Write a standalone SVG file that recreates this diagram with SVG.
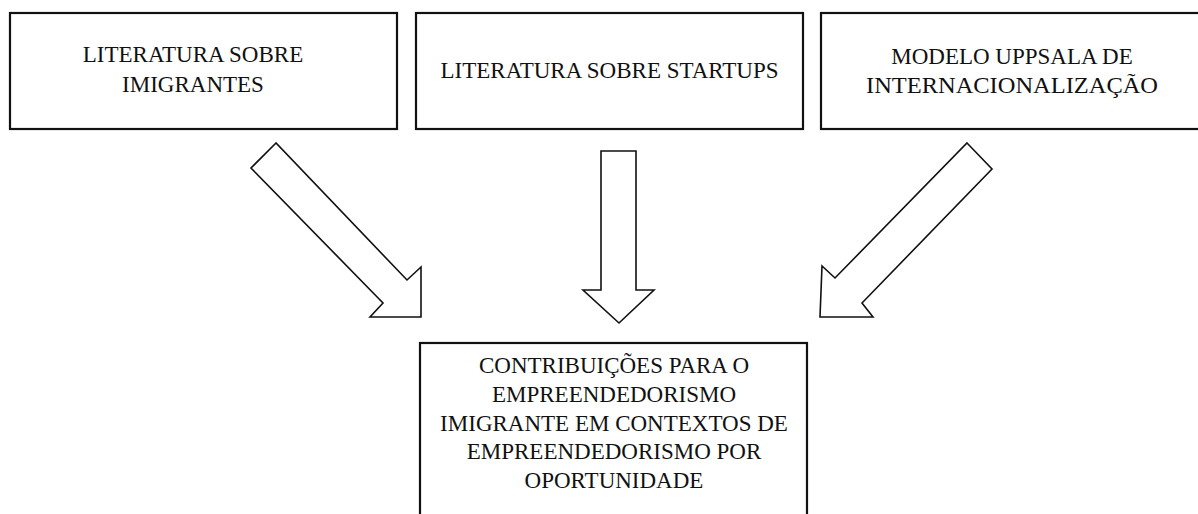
<svg xmlns="http://www.w3.org/2000/svg" width="1198" height="514" viewBox="0 0 1198 514">
<style>
.box{fill:#fff;stroke:#111;stroke-width:2.2}
.arr{fill:#fff;stroke:#111;stroke-width:1.6;stroke-linejoin:miter}
text{font-family:"Liberation Serif","Times New Roman",serif;font-size:23px;fill:#111;text-anchor:middle}
</style>
<rect width="1198" height="514" fill="#fff"/>
<g id="node-imigrantes">
<rect class="box" x="10" y="13" width="387" height="116"/>
<text x="193" y="62">LITERATURA SOBRE</text>
<text x="193" y="92">IMIGRANTES</text>
</g>
<g id="node-startups">
<rect class="box" x="416" y="13" width="387" height="116"/>
<text x="609.5" y="78">LITERATURA SOBRE STARTUPS</text>
</g>
<g id="node-uppsala">
<rect class="box" x="821" y="13" width="390" height="116"/>
<text x="1012" y="64">MODELO UPPSALA DE</text>
<text x="1012" y="93" textLength="292" lengthAdjust="spacingAndGlyphs">INTERNACIONALIZAÇÃO</text>
</g>
<g id="node-contribuicoes">
<rect class="box" x="420" y="343" width="387" height="190"/>
<text x="614" y="373">CONTRIBUIÇÕES PARA O</text>
<text x="614" y="402">EMPREENDEDORISMO</text>
<text x="614" y="431">IMIGRANTE EM CONTEXTOS DE</text>
<text x="614" y="459">EMPREENDEDORISMO POR</text>
<text x="614" y="488">OPORTUNIDADE</text>
</g>
<g id="connectors">
<polygon class="arr" points="276,143 251,168 383,303 370,317 421,317 421,267 407,280"/>
<polygon class="arr" points="601,151 636,151 636,290 654,290 619,323 583,290 601,290"/>
<polygon class="arr" points="967,143 992,169 862,303 873,317 820,317 822,266 835,278"/>
</g>
</svg>
